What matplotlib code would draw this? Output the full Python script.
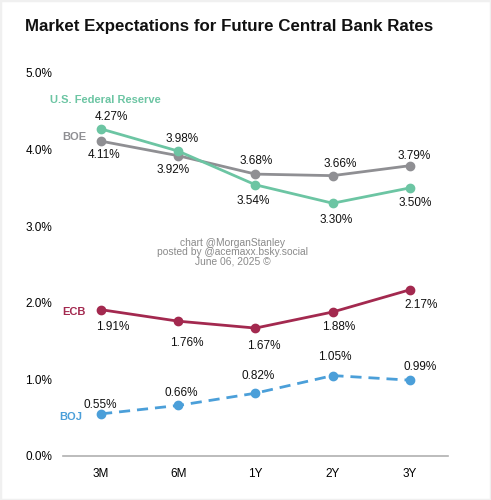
import numpy as np
import matplotlib
matplotlib.use("Agg")
import matplotlib.pyplot as plt
from matplotlib.patches import Rectangle

plt.rcParams['font.family'] = ['Liberation Sans', 'DejaVu Sans']

tenors = ["3M", "6M", "1Y", "2Y", "3Y"]
fed = [4.27, 3.98, 3.54, 3.30, 3.50]
boe = [4.11, 3.92, 3.68, 3.66, 3.79]
ecb = [1.91, 1.76, 1.67, 1.88, 2.17]
boj = [0.55, 0.66, 0.82, 1.05, 0.99]
yticks = [0, 1, 2, 3, 4, 5]

c_fed = "#6cc5a3"
c_boe = "#8f8f93"
c_ecb = "#a3294f"
c_boj = "#4b9fd9"

# label offsets in pixels (dx, dy), dy positive = above the point
fed_dx = [10, 4, -2, 3, 5]
fed_dy = [12, 12, -16, -17, -15]
boe_dx = [3, -5, 1, 8, 4]
boe_dy = [-14, -14, 13, 11.5, 10]
ecb_dx = [12, 9, 8, 6, 11]
ecb_dy = [-17, -22, -17.5, -15.5, -15.5]
boj_dx = [-1, 3, 3, 2.5, 10]
boj_dy = [9, 12, 17, 19, 13]

fig = plt.figure(figsize=(4.91, 5.0), dpi=100)
ax = fig.add_axes([0.1273, 0.088, 0.7861, 0.766])
x = np.arange(len(tenors))

ax.plot(x, boe, color=c_boe, lw=2, marker='o', ms=6, zorder=3)
ax.plot(x, fed, color=c_fed, lw=2, marker='o', ms=6, zorder=4)
ax.plot(x, ecb, color=c_ecb, lw=2, marker='o', ms=6, zorder=3)
ax.plot(x, boj, color=c_boj, lw=2, ls=(0, (4, 2.5)), marker='o', ms=6, zorder=3)


def put_labels(vals, dxs, dys):
    for i, v in enumerate(vals):
        ax.annotate("%.2f%%" % v, (i, v), xytext=(dxs[i] * 0.72, dys[i] * 0.72),
                    textcoords='offset points', ha='center', va='center',
                    fontsize=8.5, color='#111111')


put_labels(fed, fed_dx, fed_dy)
put_labels(boe, boe_dx, boe_dy)
put_labels(ecb, ecb_dx, ecb_dy)
put_labels(boj, boj_dx, boj_dy)

# series names
ax.annotate("U.S. Federal Reserve", (0, fed[0]), xytext=(-37, 21), textcoords='offset points',
            ha='left', va='center', fontsize=8, fontweight='bold', color=c_fed)
ax.annotate("BOE", (0, boe[0]), xytext=(-28, 3), textcoords='offset points',
            ha='left', va='center', fontsize=8, fontweight='bold', color=c_boe)
ax.annotate("ECB", (0, ecb[0]), xytext=(-28, -2), textcoords='offset points',
            ha='left', va='center', fontsize=8, fontweight='bold', color=c_ecb)
ax.annotate("BOJ", (0, boj[0]), xytext=(-30, -2), textcoords='offset points',
            ha='left', va='center', fontsize=8, fontweight='bold', color=c_boj)

ax.text(0.44, 0.532, "chart @MorganStanley\nposted by @acemaxx.bsky.social\nJune 06, 2025 \u00a9",
        transform=ax.transAxes, ha='center', va='center', fontsize=7.4, color='#8a8a8a',
        linespacing=0.92)

ax.set_xlim(-0.5, 4.5)
ax.set_ylim(0, 5)
ax.set_xticks(x)
ax.set_xticklabels(tenors, fontsize=8.5)
ax.set_yticks(yticks)
ax.set_yticklabels(["%.1f%%" % t for t in yticks], fontsize=8.5)
ax.tick_params(length=0, pad=7.5)
ax.tick_params(axis='x', pad=8.5)
for s in ['top', 'right', 'left']:
    ax.spines[s].set_visible(False)
ax.spines['bottom'].set_color('#b0b0b0')
ax.spines['bottom'].set_linewidth(1.2)

fig.text(0.051, 0.946, "Market Expectations for Future Central Bank Rates",
         fontsize=12.2, fontweight='bold', ha='left', va='center', color='#111111')

fig.patches.append(Rectangle((0, 0), 1, 1, transform=fig.transFigure, fill=False,
                             edgecolor='#f0f0f0', lw=2.5))

fig.savefig("out.png", dpi=100, facecolor='white')
